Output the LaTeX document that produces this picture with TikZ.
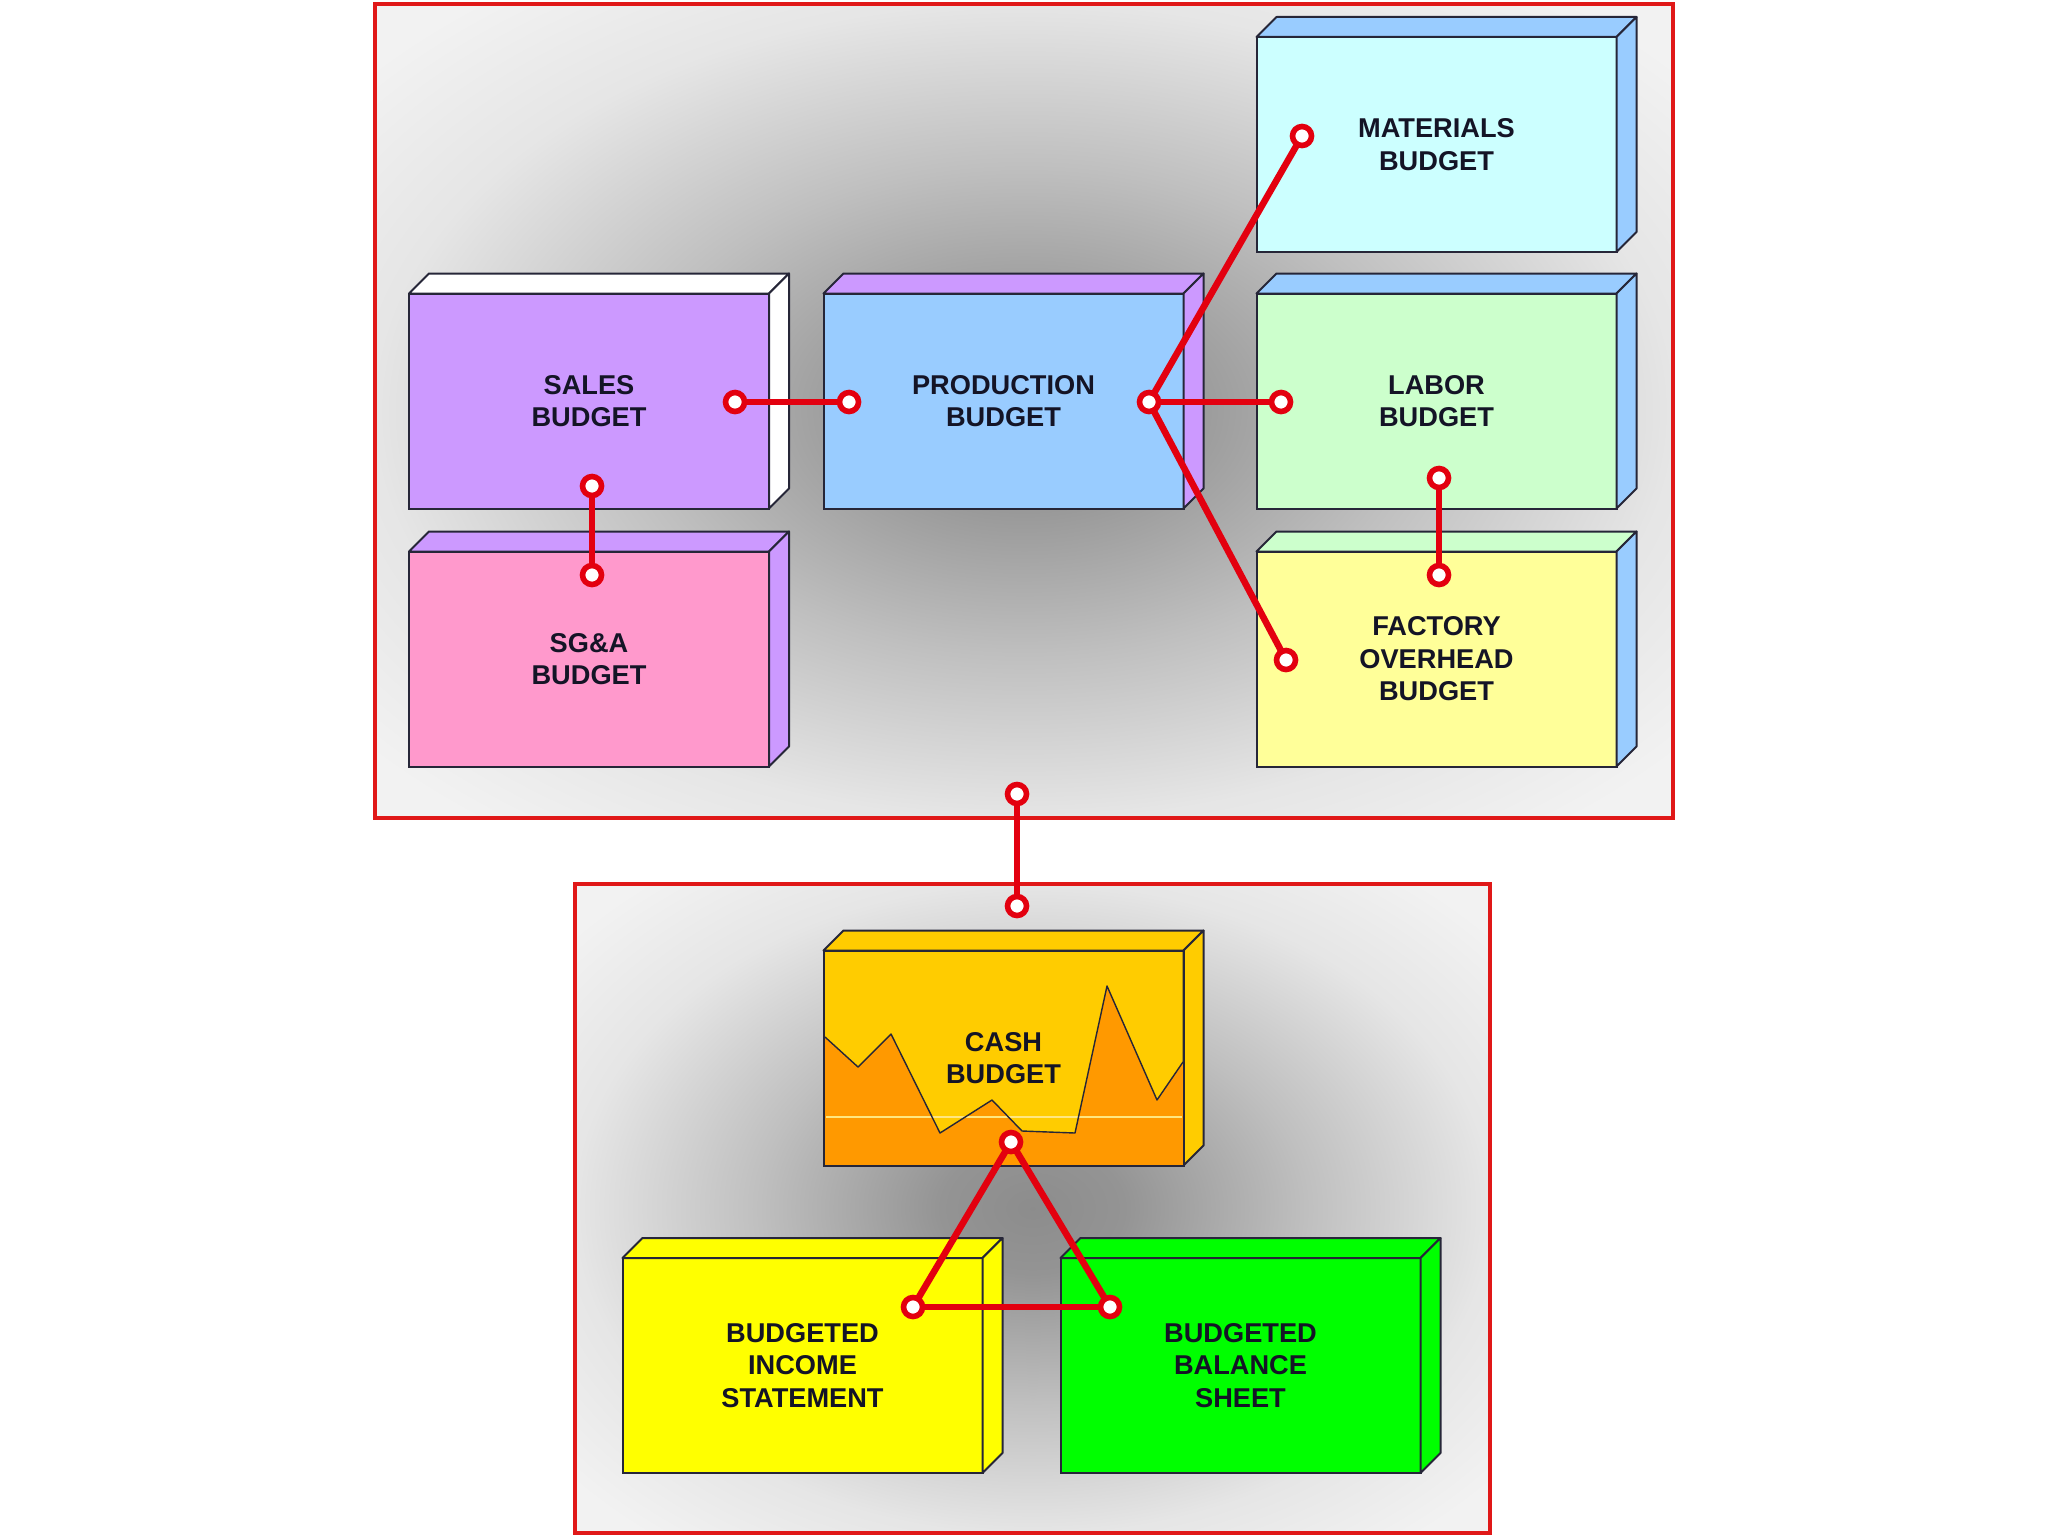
\documentclass[tikz,border=0pt]{standalone}
\usepackage{fontspec}
\setmainfont{Liberation Sans}
\definecolor{lav}{HTML}{CC99FF}
\definecolor{lblue}{HTML}{99CCFF}
\definecolor{lcyan}{HTML}{CCFFFF}
\definecolor{mint}{HTML}{CCFFCC}
\definecolor{lpink}{HTML}{FF99CC}
\definecolor{lyel}{HTML}{FFFF99}
\definecolor{gold}{HTML}{FFCC00}
\definecolor{orangec}{HTML}{FF9900}
\definecolor{yel}{HTML}{FFFF00}
\definecolor{grn}{HTML}{00FF00}
\definecolor{boxline}{HTML}{262638}
\definecolor{txt}{HTML}{141426}
\definecolor{conn}{HTML}{E3000F}
\definecolor{framered}{HTML}{E01818}
\definecolor{axisc}{HTML}{FFE680}
\definecolor{sg0}{gray}{0.55}
\definecolor{sg1}{gray}{0.58}
\definecolor{sg2}{gray}{0.75}
\definecolor{sg3}{gray}{0.9}
\definecolor{sg4}{gray}{0.95}
\pgfdeclareradialshading{frameshade}{\pgfpoint{0bp}{0bp}}{color(0bp)=(sg0); color(5bp)=(sg1); color(15bp)=(sg2); color(25bp)=(sg3); color(33bp)=(sg4); color(50bp)=(sg4)}
\newcommand\boxfaces[3]{%
  \filldraw[face, fill=#2] (#1.north west) -- ([shift={(20,-20)}]#1.north west) -- ([shift={(20,-20)}]#1.north east) -- (#1.north east) -- cycle;
  \filldraw[face, fill=#3] (#1.north east) -- ([shift={(20,-20)}]#1.north east) -- ([shift={(20,-20)}]#1.south east) -- (#1.south east) -- cycle;}
\begin{document}
\begin{tikzpicture}[x=0.5pt,y=-0.5pt,
  box/.style={draw=boxline, line width=1pt, outer sep=0pt, minimum width=180pt, minimum height=107.5pt, inner sep=0pt, font=\fontsize{13.6}{16.3}\selectfont\bfseries, text=txt, align=center},
  face/.style={draw=boxline, line width=1pt, line join=round},
  label/.style={font=\fontsize{13.6}{16.3}\selectfont\bfseries, text=txt, align=center, inner sep=0pt},
  port/.style={circle, draw=conn, line width=2.8pt, fill=white, minimum size=9.5pt, inner sep=0pt, outer sep=0pt},
  link/.style={draw=conn, line width=3.3pt},
  frame/.style={draw=framered, line width=1.6pt}]
\useasboundingbox (0,0) rectangle (2048,1536);
\fill[white] (0,0) rectangle (2048,1536);
% frames
\shade[shading=frameshade] (375,4) rectangle (1673,818);
\draw[frame] (375,4) rectangle (1673,818);
\shade[shading=frameshade] (575,884) rectangle (1490,1533);
\draw[frame] (575,884) rectangle (1490,1533);
% top boxes
\node[box, fill=lav] (sales) at (589,401) {SALES\\BUDGET};
\boxfaces{sales}{white}{white}
\node[box, fill=lblue] (prod) at (1003.5,401) {PRODUCTION\\BUDGET};
\boxfaces{prod}{lav}{lav}
\node[box, fill=lcyan] (mat) at (1436.5,144.5) {MATERIALS\\BUDGET};
\boxfaces{mat}{lblue}{lblue}
\node[box, fill=mint] (labor) at (1436.5,401) {LABOR\\BUDGET};
\boxfaces{labor}{lblue}{lblue}
\node[box, fill=lpink] (sga) at (589,659) {SG\&A\\BUDGET};
\boxfaces{sga}{lav}{lav}
\node[box, fill=lyel] (fact) at (1436.5,659) {FACTORY\\OVERHEAD\\BUDGET};
\boxfaces{fact}{mint}{lblue}
% cash box
\node[box, fill=gold] (cash) at (1003.5,1058) {};
\boxfaces{cash}{gold}{gold}
\fill[orangec] (825,1037) -- (858,1067) -- (891,1034) -- (940,1133) -- (992,1100) -- (1022,1131) -- (1075,1133) -- (1107,986) -- (1157,1100) -- (1183,1062) -- (cash.south east) -- (cash.south west) -- cycle;
\draw[axisc, line width=0.8pt] (826,1117) -- (1182,1117);
\draw[boxline, line width=0.7pt, line join=round] (825,1037) -- (858,1067) -- (891,1034) -- (940,1133) -- (992,1100) -- (1022,1131) -- (1075,1133) -- (1107,986) -- (1157,1100) -- (1183,1062);
\draw[boxline, line width=1pt] (cash.north west) rectangle (cash.south east);
\node[label] (cashtext) at (cash) {CASH\\BUDGET};
% bottom boxes
\node[box, fill=yel] (income) at (802.5,1365.5) {BUDGETED\\INCOME\\STATEMENT};
\boxfaces{income}{yel}{yel}
\node[box, fill=grn] (balance) at (1240.5,1365.5) {BUDGETED\\BALANCE\\SHEET};
\boxfaces{balance}{grn}{grn}
% connectors
\node[port] (s1) at (735,402) {};
\node[port] (p1) at (849,402) {};
\draw[link] (s1) -- (p1);
\node[port] (s2) at (592,486) {};
\node[port] (g1) at (592,575) {};
\draw[link] (s2) -- (g1);
\node[port] (hub) at (1149,402) {};
\node[port] (m1) at (1302,136) {};
\node[port] (l1) at (1281,402) {};
\node[port] (f1) at (1286,660) {};
\draw[link] (hub) -- (m1);
\draw[link] (hub) -- (l1);
\draw[link] (hub) -- (f1);
\node[port] (l2) at (1439,478) {};
\node[port] (f2) at (1439,575) {};
\draw[link] (l2) -- (f2);
\node[port] (t1) at (1017,794) {};
\node[port] (b1) at (1017,906) {};
\draw[link] (t1) -- (b1);
\node[port] (c1) at (1011,1142) {};
\node[port] (i1) at (913,1307) {};
\node[port] (r1) at (1110,1307) {};
\draw[link] (c1) -- (i1);
\draw[link] (c1) -- (r1);
\draw[link] (i1) -- (r1);
\end{tikzpicture}
\end{document}
